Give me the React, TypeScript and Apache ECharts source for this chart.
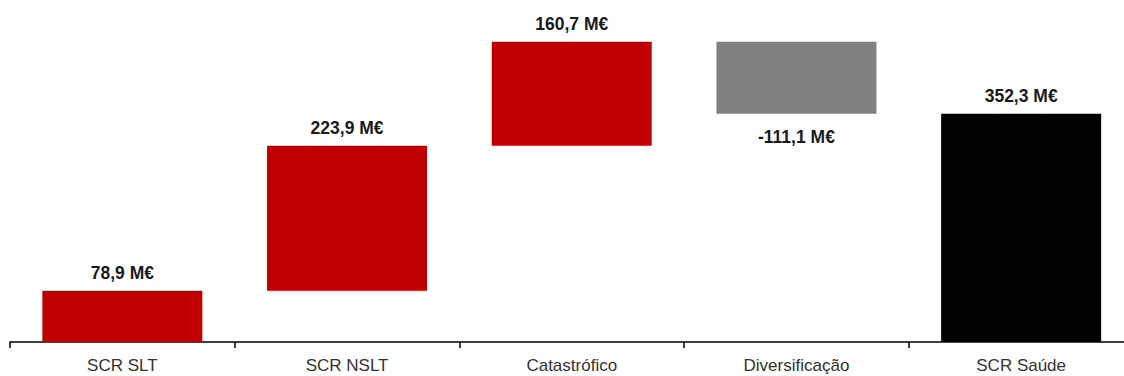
import React, { useEffect, useRef } from "react";
import * as echarts from "echarts";

const categories = ["SCR SLT", "SCR NSLT", "Catastrófico", "Diversificação", "SCR Saúde"];
const values = [78.9, 223.9, 160.7, -111.1, 352.3];
const isTotal = [false, false, false, false, true];
const colors = ["#C00000", "#C00000", "#C00000", "#808080", "#000000"];

const FONT = "'Liberation Sans', Arial, sans-serif";

function fmt(v: number) {
  return v.toFixed(1).replace(".", ",") + " M€";
}

export default function App() {
  const ref = useRef<HTMLDivElement>(null);
  useEffect(() => {
    if (!ref.current) return;
    const chart = echarts.init(ref.current, undefined, { renderer: "svg" });
    let cum = 0;
    const base: number[] = [];
    const heights: number[] = [];
    values.forEach((v, i) => {
      if (isTotal[i]) {
        base.push(0);
        heights.push(v);
        cum = v;
      } else if (v >= 0) {
        base.push(cum);
        heights.push(v);
        cum += v;
      } else {
        cum += v;
        base.push(cum);
        heights.push(-v);
      }
    });
    chart.setOption({
      animation: false,
      grid: { left: 10, top: 18, width: 1123.5, height: 324, containLabel: false },
      xAxis: {
        type: "category",
        data: categories,
        axisLine: { lineStyle: { color: "#000", width: 1.5 } },
        axisTick: { show: true, length: 6, lineStyle: { color: "#000", width: 1.5 } },
        axisLabel: { color: "#333", fontSize: 17, fontFamily: FONT, margin: 15 },
      },
      yAxis: { type: "value", min: 0, max: 500, show: false, splitLine: { show: false } },
      series: [
        {
          type: "bar",
          stack: "w",
          data: base,
          itemStyle: { color: "transparent" },
          barWidth: 160,
          silent: true,
        },
        {
          type: "bar",
          stack: "w",
          barWidth: 160,
          data: heights.map((h, i) => ({
            value: h,
            itemStyle: { color: colors[i] },
            label: {
              show: true,
              position: values[i] < 0 ? "bottom" : "top",
              distance: values[i] < 0 ? 14 : 9,
              formatter: () => fmt(values[i]),
              fontFamily: FONT,
              fontWeight: "bold",
              fontSize: 17.5,
              color: "#1a1a1a",
            },
          })),
        },
      ],
    });
    return () => chart.dispose();
  }, []);
  return (
    <div style={{ position: "absolute", left: 0, top: 0, width: 1124, height: 376, overflow: "hidden" }}>
      <div ref={ref} style={{ width: 1160, height: 376 }} />
    </div>
  );
}
